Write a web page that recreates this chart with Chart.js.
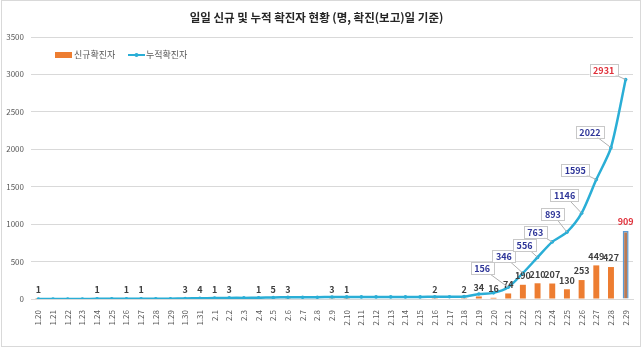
<!DOCTYPE html>
<html>
<head>
<meta charset="utf-8">
<script src="https://cdn.jsdelivr.net/npm/chart.js@4.4.1/dist/chart.umd.min.js"></script>
<style>
  html, body { margin: 0; padding: 0; background: #fff; }
  #wrap { width: 643px; height: 351px; position: relative; }
</style>
</head>
<body>
<div id="wrap"><canvas id="chart"></canvas></div>
<script>
// Dates (reporting date)
const dates = [
  '1.20', '1.21', '1.22', '1.23', '1.24', '1.25', '1.26', '1.27', '1.28', '1.29', '1.30', '1.31',
  '2.1', '2.2', '2.3', '2.4', '2.5', '2.6', '2.7', '2.8', '2.9', '2.10', '2.11', '2.12', '2.13',
  '2.14', '2.15', '2.16', '2.17', '2.18', '2.19', '2.20', '2.21', '2.22', '2.23', '2.24', '2.25',
  '2.26', '2.27', '2.28', '2.29',
];

// New confirmed cases per day
const dailyNew = [
  1, 0, 0, 0, 1, 0, 1, 1, 0, 0, 3, 4,
  1, 3, 0, 1, 5, 3, 0, 0, 3, 1, 0, 0, 0,
  0, 0, 2, 0, 2, 34, 16, 74, 190, 210, 207, 130,
  253, 449, 427, 909,
];

// Cumulative confirmed cases
const cumulative = [
  1, 1, 1, 1, 2, 2, 3, 4, 4, 4, 7, 11,
  12, 15, 15, 16, 21, 24, 24, 24, 27, 28, 28, 28, 28,
  28, 28, 30, 30, 32, 66, 82, 156, 346, 556, 763, 893,
  1146, 1595, 2022, 2931,
];

const yTicks = [0, 500, 1000, 1500, 2000, 2500, 3000, 3500];

const FONT = "'Noto Sans CJK KR', 'Noto Sans', sans-serif";
const ORANGE = '#ed7d31';
const LINE_BLUE = '#2aaed6';
const NAVY = '#2f3699';
const RED = '#e0303a';

// Cumulative labels start at 2.21; box offsets from the point (dx, dy)
const firstBoxIdx = 32;
const boxOffsets = [
  [-26, -19], [-19, -17], [-13, -12], [-17, -10], [-14, -18],
  [-17, -18], [-21, -10], [-21, -16], [-22, -10],
];

const lastIdx = dates.length - 1;

const labelPlugin = {
  id: 'labels',
  afterDatasetsDraw(chart) {
    const ctx = chart.ctx;
    ctx.save();
    ctx.textAlign = 'center';
    ctx.textBaseline = 'middle';

    // Bar value labels
    const barMeta = chart.getDatasetMeta(0);
    ctx.font = `bold 9px ${FONT}`;
    barMeta.data.forEach((bar, i) => {
      if (!dailyNew[i]) return;
      ctx.fillStyle = i === lastIdx ? RED : '#404040';
      ctx.fillText(String(dailyNew[i]), bar.x, bar.y - 9);
    });

    // Cumulative callout boxes
    const lineMeta = chart.getDatasetMeta(1);
    lineMeta.data.forEach((pt, i) => {
      if (i < firstBoxIdx) return;
      const [dx, dy] = boxOffsets[i - firstBoxIdx];
      const cx = pt.x + dx;
      const cy = pt.y + dy;
      const text = String(cumulative[i]);
      const w = ctx.measureText(text).width + 7;
      const h = 12;
      ctx.strokeStyle = '#b0b0b0';
      ctx.lineWidth = 1;
      ctx.beginPath();
      ctx.moveTo(cx, cy);
      ctx.lineTo(pt.x, pt.y);
      ctx.stroke();
      ctx.fillStyle = '#fff';
      ctx.fillRect(cx - w / 2, cy - h / 2, w, h);
      ctx.strokeStyle = '#c8c8c8';
      ctx.strokeRect(Math.round(cx - w / 2) + 0.5, Math.round(cy - h / 2) + 0.5, Math.round(w), h);
      ctx.fillStyle = i === lastIdx ? RED : NAVY;
      ctx.fillText(text, cx, cy + 0.5);
    });
    ctx.restore();
  },
  afterDraw(chart) {
    const ctx = chart.ctx;
    ctx.save();
    // Legend
    ctx.font = `9px ${FONT}`;
    ctx.textBaseline = 'middle';
    ctx.textAlign = 'left';
    ctx.fillStyle = ORANGE;
    ctx.fillRect(55, 52, 17, 6);
    ctx.fillStyle = '#595959';
    ctx.fillText('신규확진자', 74, 55);
    ctx.strokeStyle = LINE_BLUE;
    ctx.lineWidth = 2;
    ctx.beginPath();
    ctx.moveTo(128, 55);
    ctx.lineTo(145, 55);
    ctx.stroke();
    ctx.fillStyle = LINE_BLUE;
    ctx.beginPath();
    ctx.arc(136.5, 55, 2, 0, Math.PI * 2);
    ctx.fill();
    ctx.fillStyle = '#595959';
    ctx.fillText('누적확진자', 146, 55);
    // Outer frame
    ctx.strokeStyle = '#d9d9d9';
    ctx.lineWidth = 1;
    ctx.strokeRect(1.5, 0.5, 639, 346);
    ctx.restore();
  },
};

new Chart(document.getElementById('chart'), {
  data: {
    labels: dates,
    datasets: [
      {
        type: 'bar',
        label: '신규확진자',
        data: dailyNew,
        backgroundColor: dailyNew.map((_, i) => (i === lastIdx ? '#b97a55' : ORANGE)),
        borderColor: dailyNew.map((_, i) => (i === lastIdx ? '#5b9bd5' : ORANGE)),
        borderWidth: dailyNew.map((_, i) => (i === lastIdx ? 1.5 : 0)),
        barPercentage: 0.45,
        categoryPercentage: 0.9,
        order: 2,
      },
      {
        type: 'line',
        label: '누적확진자',
        data: cumulative,
        borderColor: LINE_BLUE,
        backgroundColor: LINE_BLUE,
        borderWidth: 2.5,
        pointRadius: 1.8,
        pointBorderWidth: 0,
        tension: 0.25,
        fill: false,
        order: 1,
      },
    ],
  },
  options: {
    responsive: true,
    maintainAspectRatio: false,
    animation: false,
    layout: { padding: { left: 0, right: 10, top: 0, bottom: 0 } },
    plugins: {
      legend: { display: false },
      tooltip: { enabled: false },
      title: {
        display: true,
        text: '일일 신규 및 누적 확진자 현황 (명, 확진(보고)일 기준)',
        color: '#262626',
        font: { family: FONT, size: 11.5, weight: 'bold' },
        padding: { top: 11, bottom: 12.2 },
      },
    },
    scales: {
      x: {
        offset: true,
        grid: { display: false },
        border: { color: '#d9d9d9' },
        ticks: {
          autoSkip: false,
          minRotation: 90,
          maxRotation: 90,
          padding: 3,
          color: '#595959',
          font: { family: FONT, size: 8 },
        },
        afterFit: (scale) => {
          scale.height = 52;
        },
      },
      y: {
        min: 0,
        max: 3500,
        afterBuildTicks: (scale) => {
          scale.ticks = yTicks.map((v) => ({ value: v }));
        },
        grid: { color: '#d9d9d9', drawTicks: false },
        border: { display: false },
        ticks: {
          padding: 7,
          color: '#595959',
          font: { family: FONT, size: 8 },
          callback: (value) => String(value),
        },
        afterFit: (scale) => {
          scale.width = 31;
        },
      },
    },
  },
  plugins: [labelPlugin],
});
</script>
</body>
</html>
